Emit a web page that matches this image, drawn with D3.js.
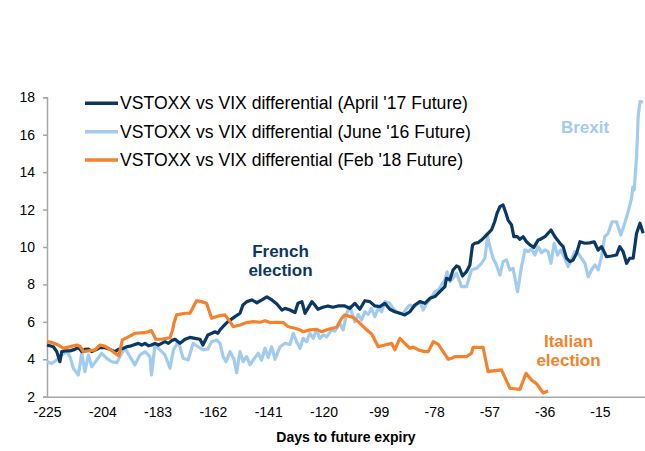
<!DOCTYPE html>
<html><head><meta charset="utf-8">
<script src="https://cdn.jsdelivr.net/npm/d3@7"></script>
<style>html,body{margin:0;padding:0;background:#fff;}svg{display:block;font-family:Arial,"Liberation Sans",sans-serif;}</style>
</head><body>
<svg id="c" width="645" height="451"></svg>
<script>
// ---- data ----
const seriesNames = ["VSTOXX vs VIX differential (April '17 Future)", "VSTOXX vs VIX differential (June '16 Future)", "VSTOXX vs VIX differential (Feb '18 Future)"];
const xTickValues = [-225, -204, -183, -162, -141, -120, -99, -78, -57, -36, -15];
const yTickValues = [2, 4, 6, 8, 10, 12, 14, 16, 18];

const aprilDays = [-225,-222.6,-221.3,-220.1,-219.4,-218.2,-216.3,-214.4,-213.1,-211.8,-210.6,-209.3,-208,-206.1,-204.9,-203,-201.1,-199.2,-197.9,-196,-194.7,-193.5,-192.2,-190.3,-189,-187.8,-186.5,-185.3,-184,-182.7,-181.5,-180.2,-178.9,-177.6,-176.4,-174.5,-172.6,-170.7,-168.8,-166.9,-165.8,-163.9,-162.4,-161.2,-160.1,-159.3,-158.2,-156.3,-153.6,-151.7,-150.6,-149.1,-147.2,-145.3,-143.4,-141.5,-139.6,-137.7,-135.8,-134.6,-132.7,-130.8,-129.7,-128.2,-127,-125.9,-124.4,-123.3,-122.1,-120.2,-118.3,-116.4,-114.5,-111.9,-110,-108.1,-106.2,-104.3,-102.4,-100.5,-98.6,-96.7,-94.8,-92.9,-91,-89.1,-87.2,-85.3,-83.4,-81.5,-79.6,-77.7,-75.8,-73.9,-73.3,-72,-70.8,-69.5,-68.5,-67.2,-65.7,-64.4,-63.4,-62.5,-61.3,-60,-58.7,-57.5,-56.2,-55,-54.1,-53,-51.8,-50.7,-49.9,-48.6,-47.7,-46.4,-45.4,-44.2,-42.9,-41.6,-40.1,-38.5,-37.8,-35.9,-33.6,-32.1,-30.2,-29,-27.7,-26.4,-25.2,-23.9,-22.6,-20.7,-18.9,-17.2,-15.7,-14.4,-12.5,-10.6,-8.7,-7.5,-6.2,-4.9,-3.7,-2.4,-1.1,0.2,1.4];
const aprilValues = [4.76,4.67,4.41,3.87,4.41,4.45,4.45,4.53,4.64,4.41,4.53,4.55,4.41,4.53,4.64,4.62,4.53,4.41,4.53,4.58,4.67,4.7,4.76,4.85,4.76,4.85,4.72,4.76,4.85,4.76,4.85,4.94,4.85,5.0,5.07,4.85,5.07,5.17,5.12,5.07,4.76,5.3,5.39,5.47,5.39,5.57,5.74,6.01,6.28,6.46,6.9,7.08,7.17,7.02,7.17,7.34,7.17,6.95,6.63,6.72,6.63,6.5,6.99,7.08,6.46,6.72,7.08,6.9,6.67,6.78,6.85,6.78,6.85,6.85,6.72,6.99,6.67,7.13,7.08,6.85,6.81,6.99,6.67,6.54,6.46,6.37,6.54,6.9,7.08,6.99,7.26,7.35,7.61,7.88,8.33,8.24,8.77,8.99,8.92,8.45,8.68,9.04,10.11,10.2,10.23,10.37,10.55,10.73,10.91,11.35,11.8,12.16,12.25,11.8,11.44,11.18,10.55,10.55,10.41,10.55,10.28,10.11,9.98,10.37,10.4,10.55,10.91,10.55,10.2,10.02,9.4,9.22,9.3,9.66,10.28,10.2,10.22,10.28,9.84,10.02,9.48,9.52,9.57,10.02,9.75,9.13,9.4,9.4,10.73,11.27,10.73];

const juneDays = [-225,-223.2,-221.3,-219.4,-217.5,-216.3,-215,-213.1,-211.8,-210.6,-209.3,-208,-206.1,-204.2,-202.3,-200.4,-198.5,-196.6,-195.4,-193.5,-191.6,-189.7,-187.8,-185.9,-185.3,-184,-182.1,-180.2,-178.3,-177,-175.1,-173.3,-171.4,-169.5,-167.6,-165.7,-163.9,-162.5,-160.6,-159.3,-158.1,-157,-155.5,-154,-153,-151.7,-150.5,-149.2,-147.9,-146.7,-144.8,-143.5,-142.2,-141,-139.7,-138.4,-136.5,-134.6,-132.7,-131.5,-130.2,-128.9,-127.7,-126.4,-125.2,-123.9,-122.6,-121.4,-120.1,-118.8,-116.9,-115.7,-113.8,-112.5,-111.2,-110,-109.3,-108.1,-106.8,-105.5,-104.3,-103,-101.8,-100.5,-99.2,-97.9,-96.7,-94.8,-93.5,-92.2,-91,-89.7,-88.4,-87.2,-85.3,-83.4,-82.1,-80.8,-78.9,-77.7,-76.4,-75.2,-73.9,-73,-72,-70.8,-69.5,-68.5,-67.6,-65.7,-63.8,-61.9,-60,-58.7,-57.7,-56.8,-55.6,-54.3,-53,-51.8,-50.5,-49.2,-48,-46.3,-44.8,-43.5,-42.3,-41,-39.7,-38.5,-37.2,-35.9,-34.7,-33.6,-32.4,-31.1,-29.9,-28.6,-27.1,-25.8,-24.6,-23.3,-22,-20.7,-19.5,-18.2,-16.9,-15.7,-14.4,-13.2,-11.9,-10.4,-8.7,-7.1,-5.6,-4.3,-3,-2.5,-2,-1.1,-0.5,0.2,1.4];
const juneValues = [3.87,3.78,3.96,4.23,4.41,4.14,3.52,3.16,4.32,3.34,4.23,3.6,3.96,4.32,4.05,3.87,3.82,4.32,4.59,4.14,3.7,4.23,4.41,4.14,3.16,4.76,4.5,4.23,3.52,4.5,4.94,4.05,3.96,4.85,4.67,4.5,4.55,4.94,5.03,4.85,4.14,3.87,4.41,4.0,3.28,4.41,3.87,4.14,3.7,3.96,4.32,3.96,4.59,4.1,4.67,4.0,4.67,4.85,4.8,5.39,4.94,4.59,5.12,4.94,5.39,5.12,5.57,5.12,5.3,5.2,5.57,5.5,5.92,5.57,6.46,6.81,6.5,6.01,6.4,6.1,6.54,6.4,6.72,6.28,6.72,6.54,7.08,6.99,6.7,6.54,6.46,6.46,6.72,6.9,6.81,7.08,6.63,6.99,7.34,7.61,7.7,7.97,8.24,8.68,8.15,8.33,8.6,8.24,7.88,7.88,8.77,8.86,9.13,9.4,10.55,10.02,9.4,9.04,8.5,9.22,9.31,8.77,8.86,7.61,8.95,9.84,9.75,9.9,9.57,10.02,9.7,9.84,9.75,9.13,10.2,9.57,9.84,9.48,8.95,9.31,9.75,9.66,9.4,9.13,8.41,8.77,9.04,8.77,9.48,10.55,10.73,11.35,11.35,10.64,11.27,11.89,12.6,13.2,13.05,14.83,16.97,17.77,17.75];

const febDays = [-225,-223.2,-220.7,-218.8,-216.9,-213.7,-212.5,-211.2,-209.3,-206.8,-204.9,-203,-201.1,-199.2,-197.7,-196.4,-194.1,-191.6,-187.8,-185.3,-183.7,-181.5,-178.3,-177.3,-176.8,-175.8,-172.6,-170.7,-168.2,-166.3,-164.4,-162.5,-160,-157.4,-155.5,-154.3,-151.7,-149.2,-146.7,-144.1,-142.2,-140.3,-137.8,-135.3,-133.4,-130.8,-128.9,-127.7,-125.2,-122.6,-120.7,-118.2,-115,-113.1,-111.9,-108.7,-106.8,-104.3,-101.7,-99.2,-96.7,-94.1,-92.9,-91,-89.1,-87.2,-85.9,-84,-81.5,-80.2,-78.3,-76.4,-72.6,-71.4,-70.1,-65.7,-63.8,-63.2,-59.4,-57.5,-55.6,-52.4,-49.2,-45.4,-43.1,-41,-39.1,-37.8,-36.6,-34.7];
const febValues = [4.94,4.9,4.76,4.59,4.65,4.76,4.7,4.41,4.45,4.5,4.76,4.7,4.53,4.32,4.18,5.03,5.2,5.39,5.42,5.53,5.07,5.07,5.15,5.57,5.92,6.37,6.46,6.46,7.13,7.08,6.99,6.19,6.31,6.37,6.01,5.74,5.83,5.96,6.01,5.98,6.06,5.96,5.98,5.96,5.74,5.66,5.57,5.47,5.57,5.6,5.47,5.6,5.71,6.19,6.37,6.24,6.01,5.66,5.35,4.67,4.76,4.85,4.5,5.12,4.85,4.59,4.65,4.5,4.41,4.41,4.94,4.8,4.0,4.05,4.14,4.14,4.32,4.64,4.64,3.34,3.38,3.43,2.45,2.39,3.25,2.89,2.7,2.45,2.2,2.3];

const annotations = [
  {lines: ["French", "election"], series: 0},
  {lines: ["Brexit"], series: 1},
  {lines: ["Italian", "election"], series: 2}
];

// ---- style / layout ----
const colors = ["#0b3862", "#a2ccef", "#f5822b"];
const svg = d3.select("#c");
const x = d3.scaleLinear().domain([-225, 2.1]).range([47, 645]);
const y = d3.scaleLinear().domain([2, 18]).range([396.7, 97.3]);
const axisColor = "#a6a6a6";

// y axis
const yAxis = svg.append("g").attr("transform", "translate(47,0)")
  .call(d3.axisLeft(y).tickValues(yTickValues).tickSize(4).tickPadding(8).tickFormat(d3.format("d")));
yAxis.select(".domain").attr("stroke", axisColor).attr("stroke-width", 1.5);
yAxis.selectAll(".tick line").attr("stroke", axisColor).attr("stroke-width", 1.5);
yAxis.selectAll("text").attr("font-size", 14).attr("fill", "#000").attr("font-family", "Arial, 'Liberation Sans', sans-serif");

// x axis
const xAxis = svg.append("g").attr("transform", "translate(0,396.7)")
  .call(d3.axisBottom(x).tickValues(xTickValues).tickSize(0).tickPadding(10).tickFormat(d => d));
xAxis.select(".domain").attr("stroke", axisColor).attr("stroke-width", 1.5);
xAxis.selectAll("text").attr("font-size", 14).attr("fill", "#000").attr("font-family", "Arial, 'Liberation Sans', sans-serif");

svg.append("text").attr("x", 346).attr("y", 442).attr("text-anchor", "middle")
  .attr("font-size", 14).attr("font-weight", "bold").text("Days to future expiry");

// lines
const seriesData = [
  d3.zip(aprilDays, aprilValues),
  d3.zip(juneDays, juneValues),
  d3.zip(febDays, febValues)
];
const line = d3.line().x(d => x(d[0])).y(d => y(d[1]));
[1, 0, 2].forEach(i => {
  svg.append("path").datum(seriesData[i]).attr("d", line)
    .attr("fill", "none").attr("stroke", colors[i]).attr("stroke-width", 3.2)
    .attr("stroke-linejoin", "round").attr("stroke-linecap", "butt");
});

// legend
const legend = svg.append("g");
seriesNames.forEach((name, i) => {
  const cy = 103.3 + i * 28.4;
  legend.append("line").attr("x1", 85).attr("x2", 118).attr("y1", cy).attr("y2", cy)
    .attr("stroke", colors[i]).attr("stroke-width", 3.5);
  legend.append("text").attr("x", 120).attr("y", cy + 6).attr("font-size", 17.6).attr("fill", "#000").text(name);
});

// annotations
const annPos = [{x: 280.5, y: 257}, {x: 585, y: 133}, {x: 568.5, y: 347}];
annotations.forEach((a, k) => {
  const t = svg.append("text").attr("text-anchor", "middle").attr("font-weight", "bold")
    .attr("font-size", 17).attr("fill", colors[a.series]);
  a.lines.forEach((l, j) => {
    t.append("tspan").attr("x", annPos[k].x).attr("y", annPos[k].y + j * 19).text(l);
  });
});
</script>
</body></html>
